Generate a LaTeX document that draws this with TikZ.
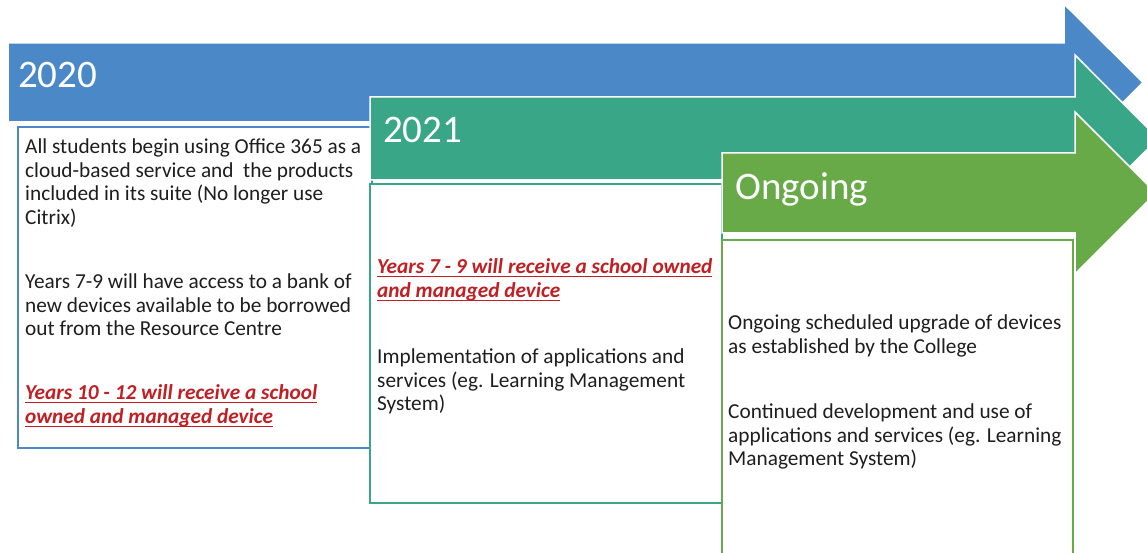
\documentclass[tikz,border=0pt]{standalone}
\usepackage{fontspec}
\setmainfont{Carlito}
\usetikzlibrary{positioning}
\definecolor{barblue}{RGB}{74,136,200}
\definecolor{barteal}{RGB}{58,166,136}
\definecolor{bargreen}{RGB}{104,170,72}
\definecolor{textgray}{RGB}{30,30,30}
\definecolor{keyred}{RGB}{192,32,36}
\newcommand{\keyline}[1]{\setbox0\hbox{#1}\rlap{\rule[-3.8pt]{\wd0}{1.4pt}}\box0}

\begin{document}
\begin{tikzpicture}[x=1pt,y=-1pt,
  bar/.style={draw=white, line width=1.5pt},
  panel/.style={fill=white, line width=1.6pt},
  year/.style={anchor=base west, inner sep=0pt, text=white, font=\fontsize{39}{44}\selectfont},
  note/.style={anchor=north west, align=left, inner sep=0pt, text=textgray, font=\fontsize{21.3}{23.6}\selectfont},
  keynote/.style={note, text=keyred, font=\fontsize{21.3}{23.6}\selectfont\bfseries\itshape}]
  \useasboundingbox (0,0) rectangle (1147,553);

  % 2020
  \fill[barblue, bar] (8,43) -- (1064,43) -- (1064,4) -- (1143,82.5) -- (1064,161)
    -- (1064,122) -- (8,122) -- cycle;
  \draw[panel, draw=barblue] (18,127) rectangle (372,448);
  \node[year] (y2020) at (18,88) {2020};
  \node[note] (office) at (25,138.5) {All students begin using Office 365 as a\\
    cloud-based service and\ \ the products\\ included in its suite (No longer use\\ Citrix)};
  \node[note] (loan) at (25,273.5) {Years 7-9 will have access to a bank of\\
    new devices available to be borrowed\\ out from the Resource Centre};
  \node[keynote] (senior) at (25,384.5) {\keyline{Years 10 - 12 will receive a school}\\
    \keyline{owned and managed device}};

  % 2021
  \fill[barteal, bar] (370,97) -- (1075,97) -- (1075,55) -- (1158,138.5) -- (1075,222)
    -- (1075,180) -- (370,180) -- cycle;
  \draw[panel, draw=barteal] (370,184) rectangle (722,503);
  \node[year] (y2021) at (383,143) {2021};
  \node[keynote] (junior) at (377,258.5) {\keyline{Years 7 - 9 will receive a school owned}\\
    \keyline{and managed device}};
  \node[note] (apps) at (377,348.5) {Implementation of applications and\\
    services (eg. Learning Management\\ System)};

  % Ongoing
  \fill[bargreen, bar] (722,153) -- (1075,153) -- (1075,112) -- (1156,193) -- (1075,274)
    -- (1075,233) -- (722,233) -- cycle;
  \draw[panel, draw=bargreen] (722,240) rectangle (1073,560);
  \node[year] (yongoing) at (735,200) {Ongoing};
  \node[note] (upgrade) at (728,314.5) {Ongoing scheduled upgrade of devices\\
    as established by the College};
  \node[note] (develop) at (728,403.5) {Continued development and use of\\
    applications and services (eg. Learning\\ Management System)};
\end{tikzpicture}
\end{document}
